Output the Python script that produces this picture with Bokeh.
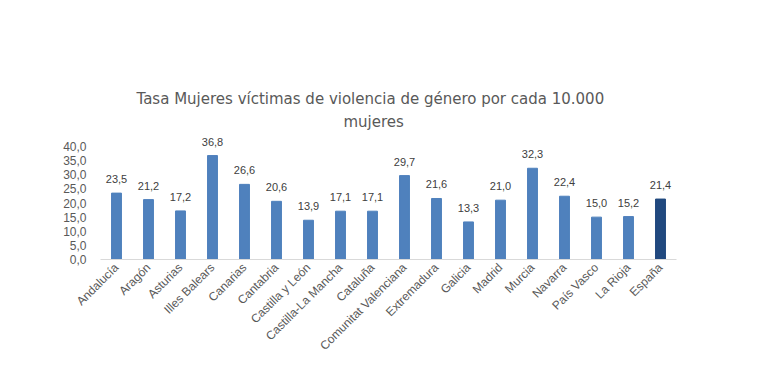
import math
from bokeh.plotting import figure
from bokeh.models import ColumnDataSource, Range1d, FixedTicker, CustomJSTickFormatter, Title
from bokeh.embed import file_html
from bokeh.resources import INLINE

regiones = ["Andalucía", "Aragón", "Asturias", "Illes Balears", "Canarias", "Cantabria",
            "Castilla y León", "Castilla-La Mancha", "Cataluña", "Comunitat Valenciana",
            "Extremadura", "Galicia", "Madrid", "Murcia", "Navarra", "País Vasco",
            "La Rioja", "España"]
tasas = [23.5, 21.2, 17.2, 36.8, 26.6, 20.6, 13.9, 17.1, 17.1, 29.7,
         21.6, 13.3, 21.0, 32.3, 22.4, 15.0, 15.2, 21.4]
colores = ["#4F81BD"] * 17 + ["#21497F"]
y_ticks = [0, 5, 10, 15, 20, 25, 30, 35, 40]
titulo = ["Tasa Mujeres víctimas de violencia de género por cada 10.000", "mujeres"]

etiquetas = [f"{v:.1f}".replace(".", ",") for v in tasas]
src = ColumnDataSource(dict(x=regiones, y=tasas, c=colores, lab=etiquetas))

p = figure(width=759, height=361, x_range=regiones, y_range=Range1d(0, 43.9),
           frame_width=576, frame_height=124,
           output_backend="svg", toolbar_location=None,
           min_border_left=100, min_border_right=83, min_border_top=135, min_border_bottom=102)

def style_title(t):
    t.align = "left"
    t.text_font = "DejaVu Sans"
    t.text_font_size = "15px"
    t.text_font_style = "normal"
    t.text_color = "#595959"

p.title.text = titulo[0]
style_title(p.title)
p.title.offset = 36
p.title.standoff = -5
t2 = Title(text=titulo[1])
style_title(t2)
t2.offset = 243
t2.standoff = 10
p.add_layout(t2, "above")

p.vbar(x="x", top="y", width=0.31, color="c", source=src)
p.text(x="x", y="y", text="lab", source=src, text_align="center", text_baseline="bottom",
       y_offset=-10, text_font_size="11px", text_color="#404040")

p.outline_line_color = None
p.xgrid.grid_line_color = None
p.ygrid.grid_line_color = None

p.yaxis.ticker = FixedTicker(ticks=y_ticks)
p.yaxis.formatter = CustomJSTickFormatter(code="return tick.toFixed(1).replace('.', ',');")
p.yaxis.axis_line_color = None
p.yaxis.major_tick_line_color = None
p.yaxis.minor_tick_line_color = None
p.yaxis.major_tick_out = 0
p.yaxis.major_label_standoff = 14
p.yaxis.major_label_text_font_size = "12px"
p.yaxis.major_label_text_color = "#595959"

p.xaxis.axis_line_color = "#D9D9D9"
p.xaxis.major_tick_line_color = None
p.xaxis.minor_tick_line_color = None
p.xaxis.major_tick_out = 0
p.xaxis.major_label_standoff = 6
p.xaxis.major_label_orientation = math.pi / 4
p.xaxis.major_label_text_font_size = "12px"
p.xaxis.major_label_text_color = "#595959"

open("out.html", "w").write(file_html(p, INLINE))
